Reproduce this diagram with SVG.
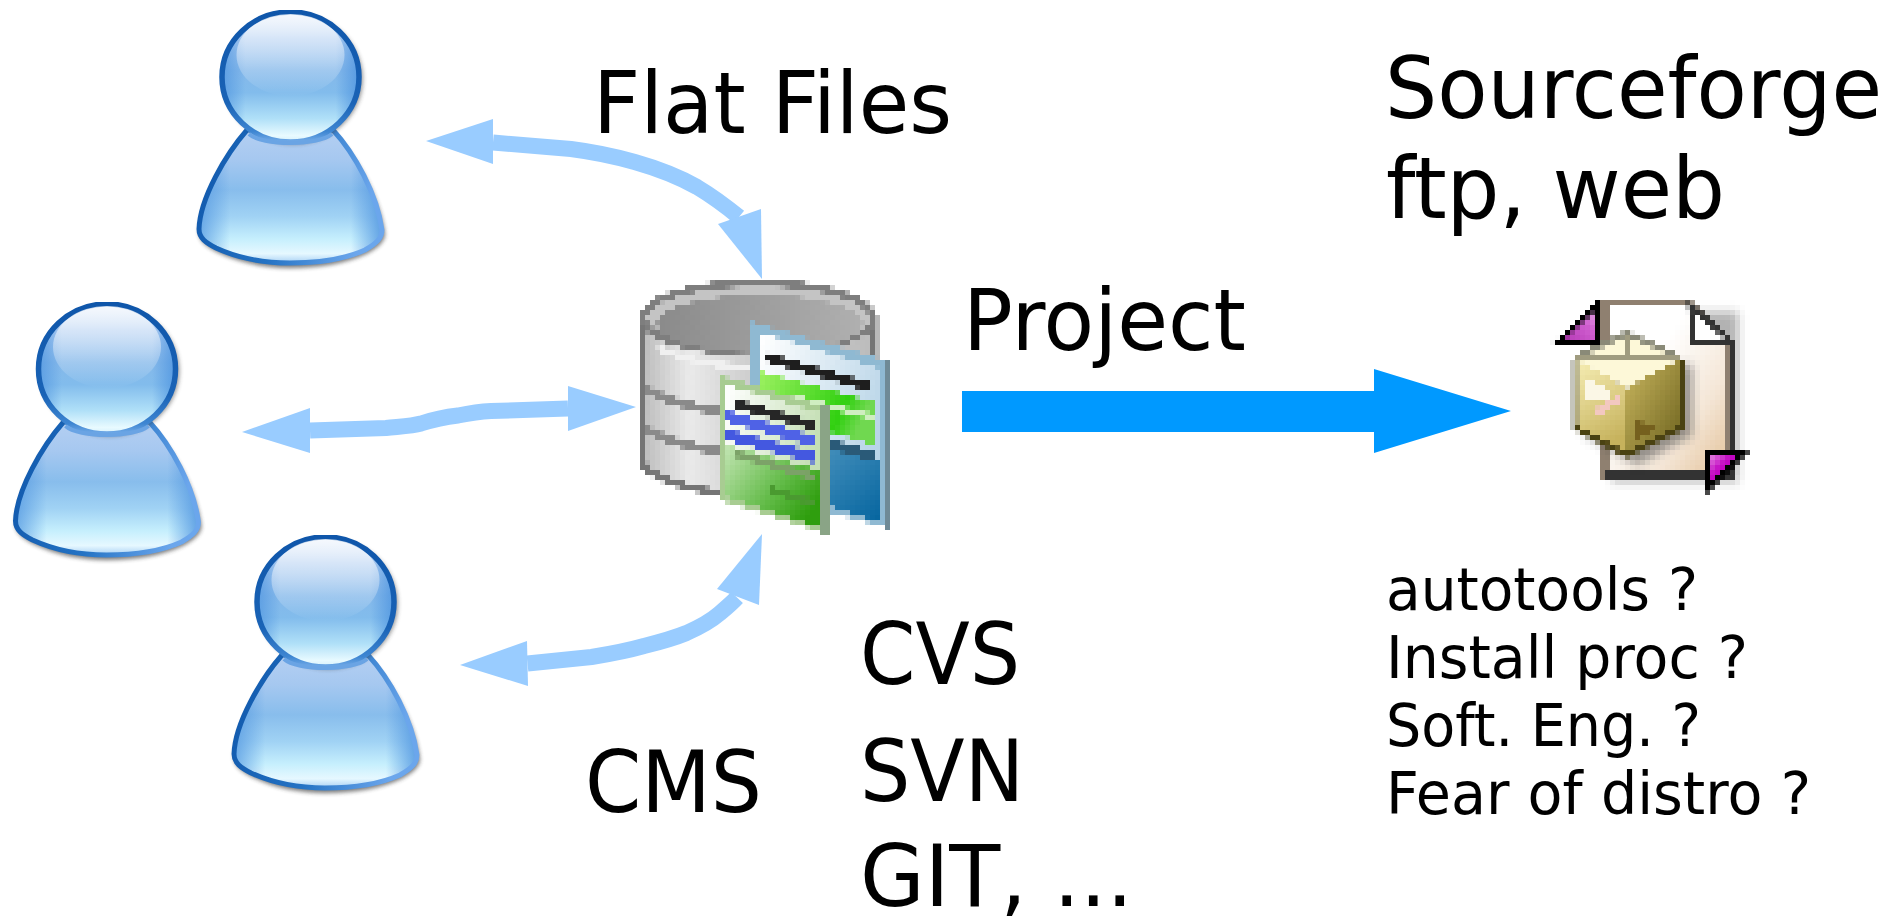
<svg xmlns="http://www.w3.org/2000/svg" width="1899" height="920" viewBox="0 0 1899 920">
<style>
text{font-family:"DejaVu Sans","Liberation Sans",sans-serif;fill:#000}
.big{font-size:85px}
.small{font-size:58px}
.shaft{fill:none;stroke:#99ccff;stroke-width:16}
.head{fill:#99ccff}
</style>
<defs>
<linearGradient id="hf" x1="0" y1="0" x2="0" y2="1"><stop offset="0" stop-color="#dce8f9"/><stop offset=".2" stop-color="#a9c9f0"/><stop offset=".45" stop-color="#84b8ea"/><stop offset=".62" stop-color="#82bcec"/><stop offset=".82" stop-color="#b0e0f8"/><stop offset=".95" stop-color="#e8faff"/><stop offset="1" stop-color="#d5f0fc"/></linearGradient>
<linearGradient id="hs" x1="0" y1="0" x2="0" y2="1"><stop offset="0" stop-color="#0f56aa"/><stop offset=".7" stop-color="#1a63b6"/><stop offset=".92" stop-color="#3e86d2"/><stop offset="1" stop-color="#74ace8"/></linearGradient>
<linearGradient id="bf" x1="0" y1="0" x2="0" y2="1"><stop offset="0" stop-color="#b4cff2"/><stop offset=".22" stop-color="#a6c8f0"/><stop offset=".45" stop-color="#88bdec"/><stop offset=".65" stop-color="#a0d2f4"/><stop offset=".82" stop-color="#c6effd"/><stop offset=".93" stop-color="#e6f8ff"/><stop offset="1" stop-color="#a8d0f4"/></linearGradient>
<linearGradient id="bs" x1="0" y1="0" x2="1" y2=".2"><stop offset="0" stop-color="#0f56aa"/><stop offset=".55" stop-color="#2473c4"/><stop offset="1" stop-color="#6ba6ec"/></linearGradient>
<linearGradient id="sd" x1="0" y1="0" x2="1" y2="0"><stop offset="0" stop-color="#4f95e0" stop-opacity=".75"/><stop offset=".17" stop-color="#4f95e0" stop-opacity="0"/><stop offset=".83" stop-color="#4f95e0" stop-opacity="0"/><stop offset="1" stop-color="#4f95e0" stop-opacity=".85"/></linearGradient>
<linearGradient id="hl" x1="0" y1="0" x2="0" y2="1"><stop offset="0" stop-color="#fff" stop-opacity=".75"/><stop offset="1" stop-color="#fff" stop-opacity="0"/></linearGradient>
<filter id="soft" x="-20%" y="-20%" width="140%" height="140%"><feGaussianBlur stdDeviation="2"/></filter>
<filter id="soft2" x="-30%" y="-30%" width="160%" height="160%"><feGaussianBlur stdDeviation="5"/></filter>
<clipPath id="topcut"><rect x="170" y="10" width="240" height="270"/></clipPath>
<g id="person" clip-path="url(#topcut)">
<path d="M246 134C226 156 201 200 199 232C199 241 207 247 217 252C240 263 265 268 290 268C320 268 346 263 366 254C379 247 385 241 385 234C380 196 356 156 334 134Z" fill="#333" opacity=".65" filter="url(#soft)"/>
<path d="M247 130C226 154 200 198 199 229C199 238 206 243 216 248C240 259 265 263 290 263C320 263 345 259 365 250C377 243 382 238 382 230C377 194 355 154 333 130Z" fill="url(#bf)"/>
<path d="M247 130C226 154 200 198 199 229C199 238 206 243 216 248C240 259 265 263 290 263C320 263 345 259 365 250C377 243 382 238 382 230C377 194 355 154 333 130Z" fill="url(#sd)" stroke="url(#bs)" stroke-width="5"/>
<ellipse cx="293" cy="79" rx="70" ry="65" fill="#333" opacity=".5" filter="url(#soft)"/>
<ellipse cx="290.5" cy="77" rx="68.5" ry="65" fill="url(#hf)"/>
<ellipse cx="290.5" cy="77" rx="68.5" ry="65" fill="url(#sd)" stroke="url(#hs)" stroke-width="5.5"/>
<ellipse cx="290.5" cy="55" rx="54" ry="41" fill="url(#hl)"/>
<path d="M249 134C262 146 318 146 332 134" fill="none" stroke="#6aa4e4" stroke-width="4"/>
</g>
<linearGradient id="cyl" x1="0" y1="0" x2="1" y2="0"><stop offset="0" stop-color="#bcbcbc"/><stop offset=".2" stop-color="#eaeaea"/><stop offset=".45" stop-color="#cfcfcf"/><stop offset="1" stop-color="#bcbcbc"/></linearGradient>
<linearGradient id="pit" x1="0" y1="0" x2="1" y2="0"><stop offset="0" stop-color="#8a8a8a"/><stop offset="1" stop-color="#b0b0b0"/></linearGradient>
<linearGradient id="dbt" x1="0" y1="0" x2="1" y2=".5"><stop offset="0" stop-color="#ffffff"/><stop offset="1" stop-color="#b9d5e8"/></linearGradient>
<linearGradient id="dbb" x1="0" y1="0" x2="1" y2="1"><stop offset="0" stop-color="#6ba8cc"/><stop offset="1" stop-color="#05659f"/></linearGradient>
<linearGradient id="dgt" x1="0" y1="0" x2="1" y2=".4"><stop offset="0" stop-color="#ffffff"/><stop offset="1" stop-color="#c4dfb4"/></linearGradient>
<linearGradient id="dgb" x1="0" y1="0" x2="1" y2=".7"><stop offset="0" stop-color="#c2e4b2"/><stop offset=".6" stop-color="#64bc4a"/><stop offset="1" stop-color="#2f9e0e"/></linearGradient>
<linearGradient id="gst" x1="0" y1="0" x2="1" y2=".3"><stop offset="0" stop-color="#9cf060"/><stop offset=".8" stop-color="#30d010"/><stop offset="1" stop-color="#70d850"/></linearGradient>
<linearGradient id="pdoc" x1="0" y1="0" x2="1" y2="1"><stop offset=".35" stop-color="#ffffff"/><stop offset=".7" stop-color="#f4e6d6"/><stop offset="1" stop-color="#e2bf94"/></linearGradient>
<linearGradient id="bl" x1="0" y1="0" x2=".3" y2="1"><stop offset="0" stop-color="#f8f0b8"/><stop offset="1" stop-color="#c6b25c"/></linearGradient>
<linearGradient id="br" x1="0" y1="0" x2="1" y2="1"><stop offset="0" stop-color="#cbb860"/><stop offset="1" stop-color="#6a601c"/></linearGradient>
<linearGradient id="tr1" x1="0" y1="1" x2="1" y2="0"><stop offset="0" stop-color="#b030b0"/><stop offset=".6" stop-color="#d060d0"/><stop offset="1" stop-color="#f0c0f0"/></linearGradient>
<linearGradient id="tr2" x1="0" y1="0" x2="1" y2="1"><stop offset="0" stop-color="#f0b0ec"/><stop offset=".4" stop-color="#c000c0"/><stop offset="1" stop-color="#e890e0"/></linearGradient>
<filter id="pix" filterUnits="userSpaceOnUse" primitiveUnits="userSpaceOnUse" x="620" y="260" width="280" height="290" color-interpolation-filters="sRGB"><feFlood x="622" y="262" width="1" height="1" flood-color="#000"/><feComposite width="5" height="5"/><feTile result="a"/><feComposite in="SourceGraphic" in2="a" operator="in"/><feMorphology operator="dilate" radius="2"/></filter>
<filter id="pix2" filterUnits="userSpaceOnUse" primitiveUnits="userSpaceOnUse" x="1540" y="290" width="220" height="215" color-interpolation-filters="sRGB"><feFlood x="1542" y="292" width="1" height="1" flood-color="#000"/><feComposite width="5" height="5"/><feTile result="a"/><feComposite in="SourceGraphic" in2="a" operator="in"/><feMorphology operator="dilate" radius="2"/></filter>
</defs>
<rect width="1899" height="920" fill="#fff"/>

<g id="user-1"><use href="#person"/></g>
<g id="user-2" transform="translate(-183.5,292)"><use href="#person"/></g>
<g id="user-3" transform="translate(35,525)"><use href="#person"/></g>

<g id="database" filter="url(#pix)">
<path d="M643 318V460C643 478 700 495 758 495C816 495 874 478 874 460V318Z" fill="url(#cyl)" stroke="#757575" stroke-width="7"/>
<path d="M644 388C672 404 715 414 760 414" fill="none" stroke="#8a8a8a" stroke-width="8"/>
<path d="M644 428C672 444 715 454 760 454" fill="none" stroke="#8a8a8a" stroke-width="8"/>
<ellipse cx="758" cy="318" rx="115" ry="35" fill="#c4c4c4" stroke="#7e7e7e" stroke-width="7"/>
<ellipse cx="760" cy="324" rx="103" ry="29" fill="url(#pit)"/>
<path d="M660 345C690 360 730 366 770 362L752 372C720 370 680 362 655 350Z" fill="#f0f0f0"/>
<polygon points="752,322 885,360 888,528 820,510 752,480" fill="#8fb9d2"/>
<polygon points="762,333 878,368 880,522 762,480" fill="url(#dbt)"/>
<polygon points="762,425 880,462 880,522 762,484" fill="url(#dbb)"/>
<polygon points="764,352 872,383 872,392 764,361" fill="#1e1e1e"/>
<polygon points="762,372 874,402 874,445 830,432 762,395" fill="url(#gst)"/>
<polygon points="790,394 874,414 874,420 790,400" fill="#cfeec0"/>
<polygon points="820,436 875,452 875,462 820,446" fill="#2a5a78"/>
<polygon points="884,360 889,360 889,528 884,528" fill="#6f8a96"/>
<polygon points="719,375 825,407 825,533 719,500" fill="#a8cc92"/>
<polygon points="727,385 818,412 818,525 727,497" fill="url(#dgt)"/>
<polygon points="727,445 818,470 818,527 727,497" fill="url(#dgb)"/>
<polygon points="735,399 813,421 813,430 735,408" fill="#262626"/>
<polygon points="725,410 814,436 814,447 725,421" fill="#4f62e6"/>
<polygon points="725,429 814,452 814,463 725,440" fill="#4458e0"/>
<polygon points="735,450 814,474 814,481 735,457" fill="#7ca268"/>
<polygon points="770,486 816,500 816,507 770,493" fill="#4a9a30"/>
<rect x="822" y="407" width="6" height="127" fill="#8aa486"/>
</g>

<g id="package" filter="url(#pix2)">
<polygon points="1612,312 1738,312 1738,482 1612,482" fill="#555" opacity=".45" filter="url(#soft2)"/>
<polygon points="1605,304 1690,304 1730,343 1730,475 1605,475" fill="url(#pdoc)" stroke="#8f8070" stroke-width="6"/>
<path d="M1605 475H1731V343" fill="none" stroke="#333" stroke-width="6"/>
<polygon points="1690,304 1730,341 1692,341" fill="#fff" stroke="#333" stroke-width="5"/>
<polygon points="1585,365 1692,365 1692,435 1637,465 1585,435" fill="#333" opacity=".5" filter="url(#soft2)"/>
<polygon points="1575,358 1627,388 1627,455 1575,428" fill="url(#bl)"/>
<polygon points="1627,388 1681,358 1681,428 1627,455" fill="url(#br)"/>
<polygon points="1575,358 1627,333 1681,358 1627,388" fill="#fdf8d8"/>
<path d="M1575 358L1627 333L1681 358" fill="none" stroke="#8a8a78" stroke-width="5"/>
<path d="M1575 358V428" fill="none" stroke="#8a8a78" stroke-width="5"/>
<path d="M1575 428L1627 455L1681 428V358" fill="none" stroke="#4a4212" stroke-width="5"/>
<path d="M1627 333V358M1577 358H1681" fill="none" stroke="#a09c80" stroke-width="5"/>
<polygon points="1587,378 1610,390 1610,402 1587,398" fill="#fbf7e6"/>
<polygon points="1593,410 1618,395 1618,403 1596,418" fill="#f3c8c0"/>
<polygon points="1636,420 1657,428 1634,442" fill="#75601e"/>
<polygon points="1597,304 1597,342 1558,342" fill="url(#tr1)" stroke="#000" stroke-width="6"/>
<polygon points="1707,452 1744,452 1707,489" fill="url(#tr2)" stroke="#000" stroke-width="6"/>
</g>

<g id="connectors">
<g id="arrow-flat-files">
<path class="shaft" d="M493 142.5L571 149C610 154 660 166 697 187C712 196 728 208 739 217"/>
<polygon class="head" points="426,141 493,119 493,164"/>
<polygon class="head" points="762,279 718,224 761,209"/>
</g>
<g id="arrow-middle">
<path class="shaft" d="M310 430.5L386 428C400 426.5 412 426 421 423.5C435 419 445 417 458 415.5C470 413 480 411.5 491 411L568 408.5"/>
<polygon class="head" points="242,432 310,408 310,453"/>
<polygon class="head" points="636,407 568,386 568,431"/>
</g>
<g id="arrow-cms">
<path class="shaft" d="M527.5 663.5L591.5 657C610 654 630 650 644 646C660 642 672 639 686.5 633C700 627 712 620 719.5 613.5C726 608 732 603 737 597.5"/>
<polygon class="head" points="460,665 527,641 528,686"/>
<polygon class="head" points="762,534 717,589 759,605"/>
</g>
<polygon id="arrow-project" fill="#0099ff" points="962,391 1374,391 1374,369 1511,411 1374,453 1374,432 962,432"/>
</g>

<g id="labels">
<text class="big" x="593" y="133" textLength="359" lengthAdjust="spacingAndGlyphs">Flat Files</text>
<text class="big" x="963" y="350" textLength="283" lengthAdjust="spacingAndGlyphs">Project</text>
<text class="big" x="1385" y="118" textLength="497" lengthAdjust="spacingAndGlyphs">Sourceforge</text>
<text class="big" x="1386" y="218" textLength="339" lengthAdjust="spacingAndGlyphs">ftp, web</text>
<text class="big" x="860" y="684" textLength="160" lengthAdjust="spacingAndGlyphs">CVS</text>
<text class="big" x="860" y="801" textLength="164" lengthAdjust="spacingAndGlyphs">SVN</text>
<text class="big" x="860" y="906" textLength="273" lengthAdjust="spacingAndGlyphs">GIT, ...</text>
<text class="big" x="585" y="812" textLength="177" lengthAdjust="spacingAndGlyphs">CMS</text>
<text class="small" x="1386" y="610" textLength="312" lengthAdjust="spacingAndGlyphs">autotools ?</text>
<text class="small" x="1386" y="678" textLength="362" lengthAdjust="spacingAndGlyphs">Install proc ?</text>
<text class="small" x="1386" y="746" textLength="315" lengthAdjust="spacingAndGlyphs">Soft. Eng. ?</text>
<text class="small" x="1386" y="814" textLength="425" lengthAdjust="spacingAndGlyphs">Fear of distro ?</text>
</g>
</svg>
